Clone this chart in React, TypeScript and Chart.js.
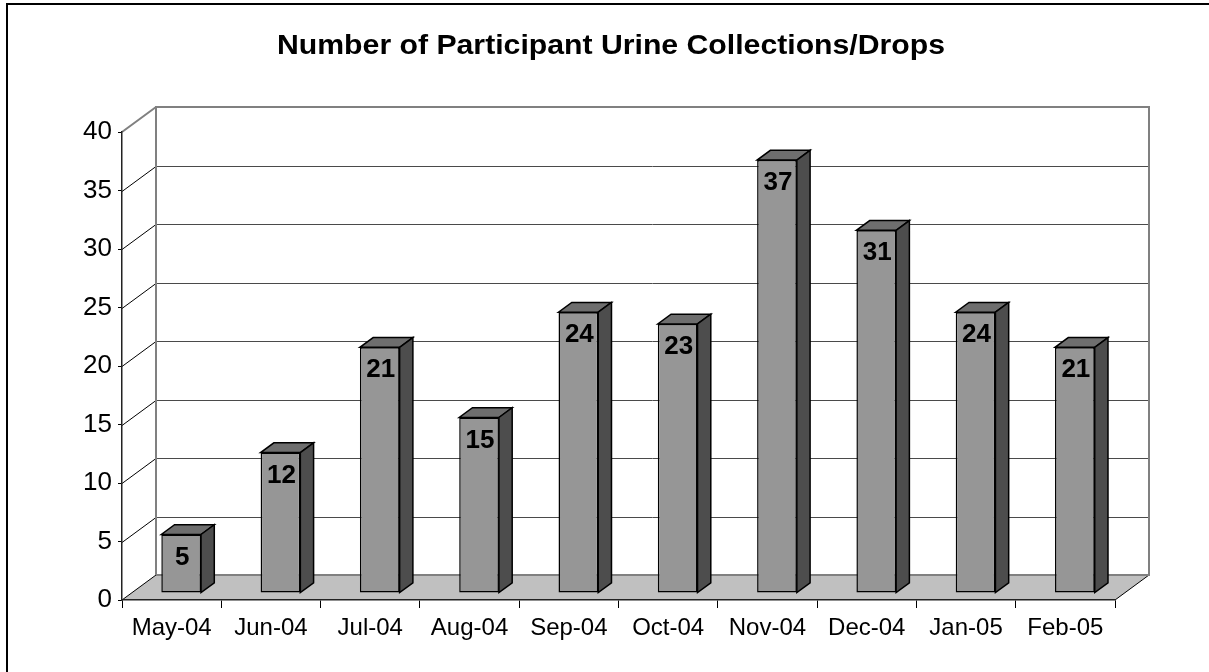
import React, { useEffect, useRef } from "react";
import { Chart, registerables } from "chart.js";

Chart.register(...registerables);

const categories = ["May-04", "Jun-04", "Jul-04", "Aug-04", "Sep-04", "Oct-04", "Nov-04", "Dec-04", "Jan-05", "Feb-05"];
const values = [5, 12, 21, 15, 24, 23, 37, 31, 24, 21];
const titleText = "Number of Participant Urine Collections/Drops";
const yMin = 0;
const yMax = 40;
const yStep = 5;

const FONT = "Arial, 'Liberation Sans', Helvetica, sans-serif";
const DEPTH_X = 34;
const DEPTH_Y = -25;
const BAR_SHIFT = 0.28;
const BAR_DEPTH = 0.39;

const threeD = {
  id: "threeD",
  beforeDraw(chart: any) {
    const { ctx, chartArea, scales } = chart;
    const { left, right, top, bottom } = chartArea;
    const y = scales.y;
    ctx.save();
    ctx.fillStyle = "#ffffff";
    ctx.fillRect(0, 0, chart.width, chart.height);

    // left side wall
    ctx.fillStyle = "#ffffff";
    ctx.beginPath();
    ctx.moveTo(left, top);
    ctx.lineTo(left + DEPTH_X, top + DEPTH_Y);
    ctx.lineTo(left + DEPTH_X, bottom + DEPTH_Y);
    ctx.lineTo(left, bottom);
    ctx.closePath();
    ctx.fill();

    // grid lines on back wall and side wall
    for (const t of y.ticks) {
      if (t.value <= yMin || t.value >= yMax) continue;
      const py = Math.round(y.getPixelForValue(t.value)) + 0.5;
      ctx.strokeStyle = "#4a4a4a";
      ctx.lineWidth = 1;
      ctx.beginPath();
      ctx.moveTo(left + DEPTH_X, py + DEPTH_Y);
      ctx.lineTo(right + DEPTH_X, py + DEPTH_Y);
      ctx.stroke();
      ctx.strokeStyle = "#000000";
      ctx.beginPath();
      ctx.moveTo(left, py);
      ctx.lineTo(left + DEPTH_X, py + DEPTH_Y);
      ctx.stroke();
    }

    // floor
    ctx.fillStyle = "#c0c0c0";
    ctx.beginPath();
    ctx.moveTo(left, bottom);
    ctx.lineTo(right, bottom);
    ctx.lineTo(right + DEPTH_X, bottom + DEPTH_Y);
    ctx.lineTo(left + DEPTH_X, bottom + DEPTH_Y);
    ctx.closePath();
    ctx.fill();
    ctx.strokeStyle = "#000000";
    ctx.lineWidth = 1;
    ctx.beginPath();
    ctx.moveTo(right, bottom);
    ctx.lineTo(right + DEPTH_X, bottom + DEPTH_Y);
    ctx.moveTo(left, bottom);
    ctx.lineTo(left + DEPTH_X, bottom + DEPTH_Y);
    ctx.stroke();

    // back wall outline
    ctx.strokeStyle = "#808080";
    ctx.lineWidth = 2;
    ctx.beginPath();
    ctx.moveTo(left + DEPTH_X, bottom + DEPTH_Y);
    ctx.lineTo(left + DEPTH_X, top + DEPTH_Y);
    ctx.lineTo(right + DEPTH_X, top + DEPTH_Y);
    ctx.lineTo(right + DEPTH_X, bottom + DEPTH_Y);
    ctx.lineTo(left + DEPTH_X, bottom + DEPTH_Y);
    ctx.moveTo(left, top);
    ctx.lineTo(left + DEPTH_X, top + DEPTH_Y);
    ctx.stroke();

    // title
    ctx.fillStyle = "#000000";
    ctx.font = `bold 28px ${FONT}`;
    ctx.textAlign = "center";
    ctx.textBaseline = "middle";
    const w = ctx.measureText(titleText).width;
    ctx.translate(611, 46);
    ctx.scale(668 / w, 1);
    ctx.fillText(titleText, 0, 0);
    ctx.restore();
  },
  beforeDatasetsDraw(chart: any) {
    chart.ctx.save();
    chart.ctx.translate(DEPTH_X * BAR_SHIFT, DEPTH_Y * BAR_SHIFT);
  },
  afterDatasetsDraw(chart: any) {
    const { ctx } = chart;
    ctx.restore();
    const sx = DEPTH_X * BAR_SHIFT;
    const sy = DEPTH_Y * BAR_SHIFT;
    const dx = DEPTH_X * BAR_DEPTH;
    const dy = DEPTH_Y * BAR_DEPTH;
    const meta = chart.getDatasetMeta(0);
    ctx.save();
    ctx.lineWidth = 1.5;
    ctx.lineJoin = "miter";
    ctx.strokeStyle = "#000000";
    meta.data.forEach((bar: any, i: number) => {
      const { x, y, base, width } = bar.getProps(["x", "y", "base", "width"], true);
      const fl = x - width / 2 + sx;
      const fr = x + width / 2 + sx;
      const ft = y + sy;
      const fb = base + sy;
      // top face
      ctx.fillStyle = "#6e6e6e";
      ctx.beginPath();
      ctx.moveTo(fl, ft);
      ctx.lineTo(fr, ft);
      ctx.lineTo(fr + dx, ft + dy);
      ctx.lineTo(fl + dx, ft + dy);
      ctx.closePath();
      ctx.fill();
      ctx.stroke();
      // side face
      ctx.fillStyle = "#4d4d4d";
      ctx.beginPath();
      ctx.moveTo(fr, ft);
      ctx.lineTo(fr + dx, ft + dy);
      ctx.lineTo(fr + dx, fb + dy);
      ctx.lineTo(fr, fb);
      ctx.closePath();
      ctx.fill();
      ctx.stroke();
      // label
      ctx.fillStyle = "#000000";
      ctx.font = `bold 26px ${FONT}`;
      ctx.textAlign = "center";
      ctx.textBaseline = "middle";
      ctx.fillText(String(values[i]), (fl + fr) / 2 + 1, ft + 23);
    });
    ctx.restore();
  },
  afterDraw(chart: any) {
    const { ctx } = chart;
    ctx.save();
    ctx.strokeStyle = "#000000";
    ctx.lineWidth = 2;
    ctx.beginPath();
    ctx.moveTo(7, chart.height);
    ctx.lineTo(7, 4);
    ctx.lineTo(chart.width, 4);
    ctx.stroke();
    ctx.restore();
  },
};

export default function App() {
  const ref = useRef<HTMLCanvasElement | null>(null);
  useEffect(() => {
    document.body.style.margin = "0";
    const canvas = ref.current;
    if (!canvas) return;
    const chart = new Chart(canvas, {
      type: "bar",
      data: {
        labels: categories,
        datasets: [
          {
            data: values,
            backgroundColor: "#969696",
            borderColor: "#000000",
            borderWidth: 1.5,
            borderSkipped: false,
            barPercentage: 0.4,
            categoryPercentage: 1.0,
          } as any,
        ],
      },
      options: {
        responsive: false,
        animation: false,
        devicePixelRatio: 1,
        layout: { padding: { top: 132, right: 94, left: 0, bottom: 0 } },
        plugins: {
          legend: { display: false },
          title: { display: false },
          tooltip: { enabled: false },
        },
        scales: {
          x: {
            grid: { drawOnChartArea: false, drawTicks: true, tickLength: 8, color: "#000000", offset: true },
            border: { display: true, color: "#222222", width: 1.5 },
            ticks: { color: "#000000", font: { family: FONT, size: 24 }, padding: 6, maxRotation: 0, autoSkip: false },
            afterFit: (s: any) => {
              s.height = 72;
            },
          },
          y: {
            min: yMin,
            max: yMax,
            ticks: { stepSize: yStep, color: "#000000", font: { family: FONT, size: 26 }, padding: 6 },
            grid: { drawOnChartArea: false, drawTicks: true, tickLength: 4, color: "#000000" },
            border: { display: true, color: "#222222", width: 1.5 },
            afterFit: (s: any) => {
              s.width = 122;
            },
          },
        },
      } as any,
      plugins: [threeD],
    });
    return () => chart.destroy();
  }, []);
  return (
    <div style={{ width: 1209, height: 672 }}>
      <canvas ref={ref} width={1209} height={672} style={{ display: "block", width: 1209, height: 672 }} />
    </div>
  );
}
